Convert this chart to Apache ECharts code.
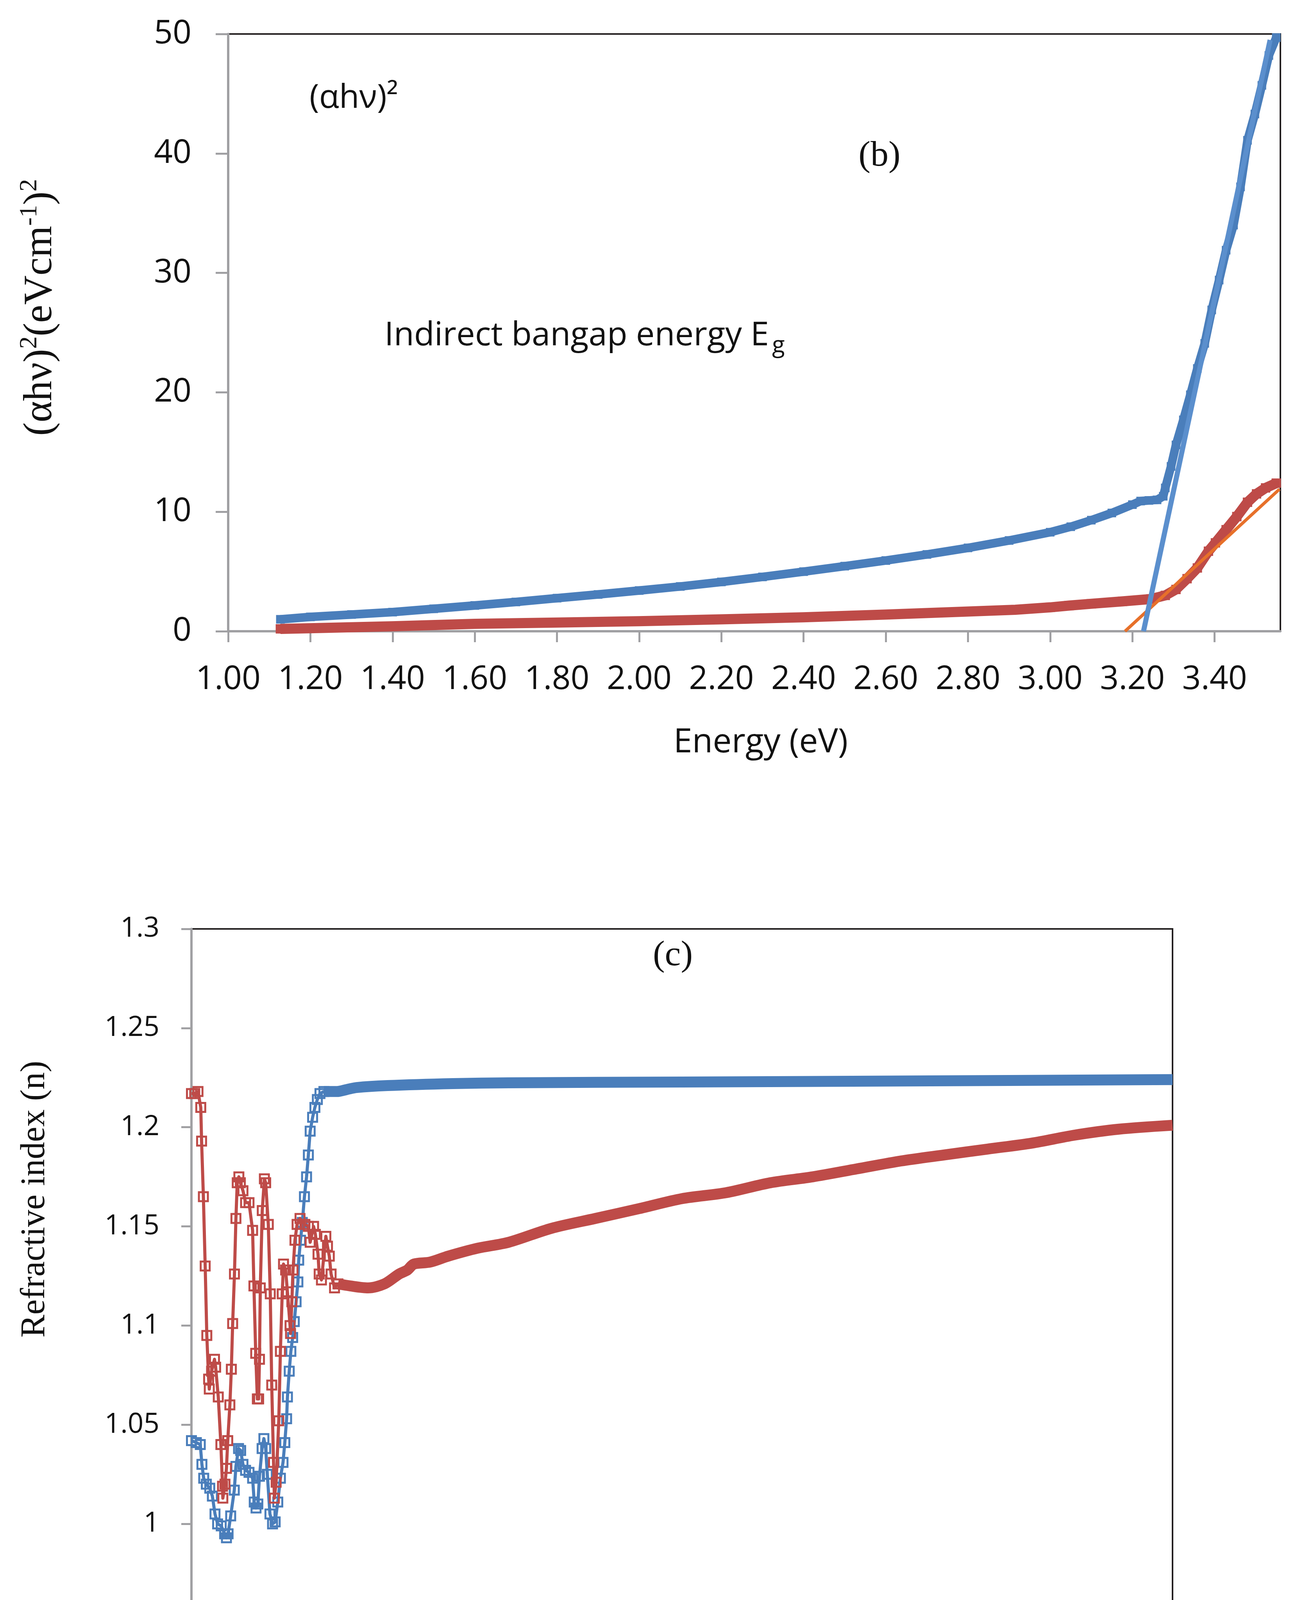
<!DOCTYPE html>
<html>
<head>
<meta charset="utf-8">
<script src="https://cdn.jsdelivr.net/npm/echarts@6/dist/echarts.min.js"></script>
<style>
html,body{margin:0;padding:0;background:#fff;}
#chart{width:3317px;height:4497px;}
</style>
</head>
<body>
<div id="chart"></div>
<script>
// ---------- Panel (b): (alpha h nu)^2 vs energy ----------
const energyTicks = [1.0, 3.56, 0.2];           // min, max, step (eV)
const absTicks = [0, 50, 10];                   // min, max, step
const blueAbs = [
  [1.127,1.0],[1.2,1.2],[1.3,1.4],[1.4,1.6],[1.5,1.88],[1.6,2.16],[1.7,2.45],[1.8,2.77],
  [1.9,3.08],[2.0,3.41],[2.1,3.75],[2.2,4.13],[2.3,4.55],[2.4,4.99],[2.5,5.45],[2.6,5.92],
  [2.7,6.43],[2.8,6.98],[2.9,7.6],[3.0,8.29],[3.05,8.75],[3.1,9.3],[3.15,9.9],[3.2,10.6],
  [3.22,10.9],[3.24,10.95],[3.26,11.0],[3.275,11.3],[3.28,12.0],[3.294,13.8],[3.306,15.6],
  [3.324,17.7],[3.341,19.8],[3.358,22.0],[3.376,24.1],[3.393,26.9],[3.411,29.4],[3.428,31.9],
  [3.446,34.0],[3.463,37.2],[3.48,41.1],[3.498,43.3],[3.515,45.7],[3.532,48.2],[3.55,49.7]
];
const redAbs = [
  [1.127,0.2],[1.2,0.25],[1.4,0.42],[1.6,0.62],[1.8,0.73],[2.0,0.84],[2.2,1.0],[2.4,1.17],
  [2.6,1.4],[2.8,1.65],[2.915,1.8],[3.0,2.0],[3.046,2.15],[3.1,2.3],[3.176,2.5],[3.245,2.7],
  [3.28,3.0],[3.306,3.5],[3.333,4.4],[3.358,5.3],[3.385,6.7],[3.402,7.4],[3.428,8.5],
  [3.454,9.6],[3.48,10.8],[3.502,11.5],[3.524,12.0],[3.55,12.4]
];
const blueFit = [[3.227,0],[3.535,49.5]];
const orangeFit = [[3.182,0],[3.558,11.9]];

// ---------- Panel (c): refractive index vs wavelength ----------
const wlTicks = [300, 900, 200];
const nTicks = [0.95, 1.3, 0.05];
const blueNRough = [
  [300,1.042],[303,1.041],[305.4,1.040],[306.4,1.030],[307.5,1.023],[309.1,1.020],[311.2,1.018],
  [312.8,1.014],[314.4,1.005],[316,1.000],[318.2,0.999],[320.3,0.995],[321.4,0.993],[322.4,0.995],
  [324,1.004],[326.2,1.017],[327.2,1.029],[328.8,1.038],[330.1,1.037],[331.5,1.030],[333.1,1.027],
  [335.2,1.026],[337.4,1.023],[338.4,1.011],[339.5,1.008],[340.6,1.010],[341.6,1.024],[343.2,1.038],
  [344.3,1.043],[345.4,1.038],[346.4,1.025],[348,1.005],[349.6,1.000],[351.2,1.001],[352.8,1.011],
  [354.4,1.023],[356,1.031],[357.1,1.041],[358.2,1.053],[358.7,1.064],[359.8,1.077],[360.8,1.087],
  [361.9,1.094],[362.9,1.102],[364,1.112],[365.1,1.122],[365.6,1.133],[366.7,1.143],[367.8,1.152],
  [369.1,1.165],[370.4,1.175],[371.5,1.186],[372.6,1.198],[374.1,1.205],[375.5,1.210],[377,1.214],
  [378.6,1.217],[381,1.218]
];
const blueNDense = [
  [381,1.218],[389,1.218],[395,1.219],[401,1.220],[420,1.221],[460,1.222],[494,1.2224],
  [600,1.2228],[680,1.2231],[800,1.2236],[900,1.224]
];
const redNRough = [
  [300,1.217],[302,1.217],[304,1.218],[305.7,1.210],[306.2,1.193],[307.3,1.165],[308.4,1.130],
  [309.4,1.095],[310.5,1.073],[310.9,1.068],[312.3,1.077],[314.1,1.083],[314.8,1.079],[316.4,1.064],
  [318,1.040],[319,1.019],[319.2,1.013],[320.5,1.020],[321.4,1.028],[322.2,1.042],[323.5,1.060],
  [324.4,1.078],[325.2,1.101],[326.3,1.126],[327.2,1.154],[328,1.172],[329,1.175],[329.9,1.172],
  [331.5,1.168],[333.1,1.162],[335.2,1.162],[337.4,1.148],[338.2,1.120],[339.3,1.086],[340.3,1.063],
  [341.1,1.063],[341.6,1.083],[342.1,1.119],[343.3,1.158],[344.6,1.174],[345.4,1.172],[347,1.151],
  [348.2,1.116],[349.1,1.070],[350.2,1.031],[350.7,1.013],[351.8,1.021],[353.4,1.052],[354.4,1.087],
  [355.5,1.116],[356.3,1.131],[357.6,1.128],[358.7,1.117],[360.3,1.100],[360.6,1.096],[361.4,1.112],
  [362.1,1.128],[363.3,1.143],[364.6,1.151],[366.4,1.154],[369.4,1.151],[371.5,1.150],[372.6,1.142],
  [374.7,1.150],[375.8,1.146],[377.4,1.136],[378.1,1.126],[379.5,1.123],[382.2,1.145],[383.2,1.140],
  [384.3,1.135],[385.4,1.126],[387.5,1.119],[389.6,1.121]
];
const redNDense = [
  [389.6,1.121],[397,1.120],[408,1.119],[418,1.121],[427,1.126],[432,1.128],[436,1.131],[446,1.132],
  [457,1.135],[475,1.139],[494,1.142],[520,1.149],[547,1.154],[574,1.159],[600,1.164],[627,1.167],
  [654,1.172],[680,1.175],[707,1.179],[734,1.183],[760,1.186],[787,1.189],[814,1.192],[840,1.196],
  [867,1.199],[900,1.201]
];

// ---------- styling ----------
const BLUE = '#4A7EBB', RED = '#BE4B48', FITBLUE = '#5B8FCD', ORANGE = '#E7702A';
const AXIS_GRAY = '#A0A0A3';
const SANS = 'Open Sans', SERIF = 'Liberation Serif';

function valueAxis(grid, ticks, o) {
  return Object.assign({
    type: 'value', gridIndex: grid,
    min: ticks[0], max: ticks[1], interval: ticks[2],
    axisLine: { show: true, onZero: false, lineStyle: { color: AXIS_GRAY, width: 6 } },
    axisTick: { show: true, inside: false, length: 28, lineStyle: { color: AXIS_GRAY, width: 5 } },
    splitLine: { show: false },
  }, o);
}

const chart = echarts.init(document.getElementById('chart'), null, { renderer: 'canvas' });
const option = {
  animation: false,
  backgroundColor: '#fff',
  grid: [
    { left: 584, top: 87, width: 2693, height: 1529, show: true, borderColor: '#231F20', borderWidth: 4, backgroundColor: 'transparent' },
    { left: 490, top: 2378, width: 2511, height: 1777, show: true, borderColor: '#231F20', borderWidth: 4, backgroundColor: 'transparent' }
  ],
  xAxis: [
    valueAxis(0, energyTicks, {
      axisLabel: { showMaxLabel: false, formatter: v => v.toFixed(2), fontFamily: SANS, fontSize: 84, color: '#111', margin: 82 }
    }),
    valueAxis(1, wlTicks, {
      axisTick: { show: true, length: 25, lineStyle: { color: AXIS_GRAY, width: 5 } },
      axisLabel: { fontFamily: SANS, fontSize: 71, color: '#111', margin: 76 }
    })
  ],
  yAxis: [
    valueAxis(0, absTicks, {
      axisTick: { show: true, length: 32, lineStyle: { color: AXIS_GRAY, width: 5 } },
      axisLabel: { fontFamily: SANS, fontSize: 84, color: '#111', margin: 94 }
    }),
    valueAxis(1, nTicks, {
      axisTick: { show: true, length: 26, lineStyle: { color: AXIS_GRAY, width: 5 } },
      axisLabel: { formatter: v => String(+v.toFixed(2)), fontFamily: SANS, fontSize: 71, color: '#111', margin: 82 }
    })
  ],
  series: [
    { type: 'line', xAxisIndex: 0, yAxisIndex: 0, data: blueAbs, clip: false, z: 3,
      symbol: 'rect', symbolSize: 22, itemStyle: { color: BLUE },
      lineStyle: { color: BLUE, width: 22, join: 'round' } },
    { type: 'line', xAxisIndex: 0, yAxisIndex: 0, data: redAbs, clip: false, z: 4,
      symbol: 'rect', symbolSize: 24, itemStyle: { color: RED },
      lineStyle: { color: RED, width: 26, join: 'round' } },
    { type: 'line', xAxisIndex: 0, yAxisIndex: 0, data: orangeFit, clip: false, z: 5,
      symbol: 'none', lineStyle: { color: ORANGE, width: 8 } },
    { type: 'line', xAxisIndex: 0, yAxisIndex: 0, data: blueFit, clip: false, z: 6,
      symbol: 'none', lineStyle: { color: FITBLUE, width: 13 } },

    { type: 'line', xAxisIndex: 1, yAxisIndex: 1, data: blueNDense, clip: false, z: 3, smooth: 0.3,
      symbol: 'none', lineStyle: { color: BLUE, width: 28, join: 'round' } },
    { type: 'line', xAxisIndex: 1, yAxisIndex: 1, data: blueNRough, clip: false, z: 3,
      symbol: 'rect', symbolSize: 23,
      itemStyle: { color: 'rgba(255,255,255,0)', borderColor: BLUE, borderWidth: 5 },
      lineStyle: { color: BLUE, width: 8, join: 'round' } },
    { type: 'line', xAxisIndex: 1, yAxisIndex: 1, data: redNDense, clip: false, z: 4, smooth: 0.3,
      symbol: 'none', lineStyle: { color: RED, width: 28, join: 'round' } },
    { type: 'line', xAxisIndex: 1, yAxisIndex: 1, data: redNRough, clip: false, z: 4,
      symbol: 'rect', symbolSize: 23,
      itemStyle: { color: 'rgba(255,255,255,0)', borderColor: RED, borderWidth: 5 },
      lineStyle: { color: RED, width: 8, join: 'round' } }
  ],
  graphic: [
    // panel (b) texts
    { type: 'text', x: 792, y: 252, style: { text: '(αhν)²', font: '84px "Open Sans"', fill: '#111', textAlign: 'left', textVerticalAlign: 'middle' } },
    { type: 'text', x: 2251, y: 400, style: { text: '(b)', font: '92px "Liberation Serif"', fill: '#111', textAlign: 'center', textVerticalAlign: 'middle' } },
    { type: 'text', x: 984, y: 860, style: {
        text: '{m|Indirect bangap energy E}{s|g}', textAlign: 'left', textVerticalAlign: 'middle', fill: '#111',
        rich: {
          m: { fontFamily: SANS, fontSize: 85, lineHeight: 112, verticalAlign: 'middle', fill: '#111' },
          s: { fontFamily: SANS, fontSize: 60, lineHeight: 112, verticalAlign: 'bottom', padding: [0, 0, 0, 8], fill: '#111' }
        } } },
    { type: 'text', x: 1947, y: 1901, style: { text: 'Energy (eV)', font: '86px "Open Sans"', fill: '#111', textAlign: 'center', textVerticalAlign: 'middle' } },
    { type: 'text', x: 104, y: 787, rotation: Math.PI / 2, style: {
        text: '{a|(αhν)}{s|2}{a|(eVcm}{s|-1}{a|)}{s|2}', textAlign: 'center', textVerticalAlign: 'middle', fill: '#111',
        rich: {
          a: { fontFamily: SERIF, fontSize: 104, lineHeight: 120, verticalAlign: 'middle', fill: '#111' },
          s: { fontFamily: SERIF, fontSize: 64, lineHeight: 120, verticalAlign: 'top', fill: '#111' }
        } } },
    // panel (c) texts
    { type: 'text', x: 1722, y: 2447, style: { text: '(c)', font: '92px "Liberation Serif"', fill: '#111', textAlign: 'center', textVerticalAlign: 'middle' } },
    { type: 'text', x: 1746, y: 4412, style: { text: 'Wavelength (nm)', font: '100px "Liberation Serif"', fill: '#111', textAlign: 'center', textVerticalAlign: 'middle' } },
    { type: 'text', x: 90, y: 3070, rotation: Math.PI / 2, style: { text: 'Refractive index (n)', font: '88px "Liberation Serif"', fill: '#111', textAlign: 'center', textVerticalAlign: 'middle' } }
  ]
};
chart.setOption(option);
</script>
</body>
</html>
